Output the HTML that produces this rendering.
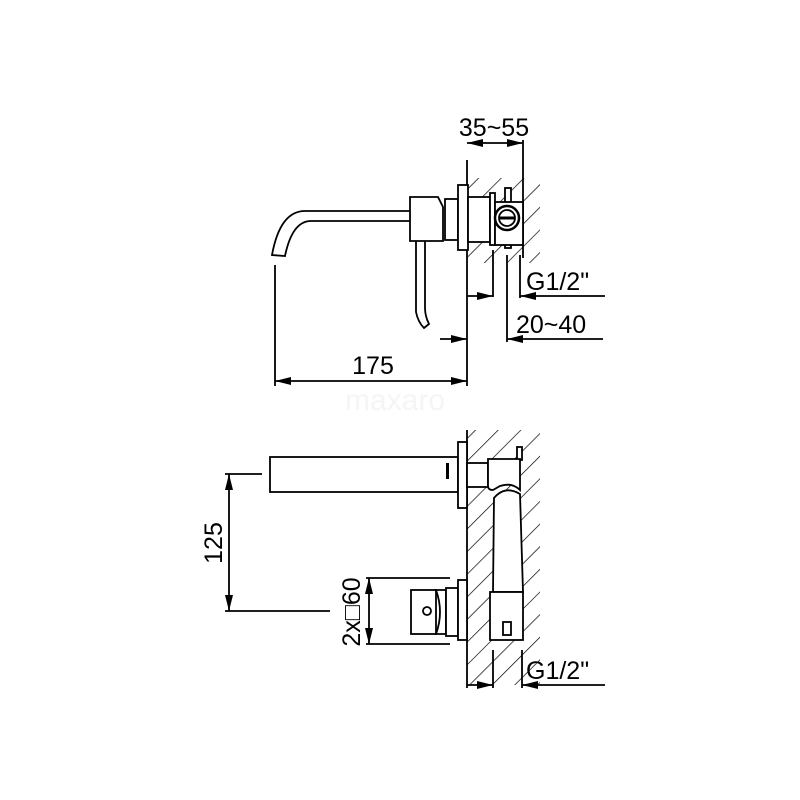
<!DOCTYPE html>
<html><head><meta charset="utf-8"><style>html,body{margin:0;padding:0;background:#fff}svg{display:block}</style></head><body>
<svg width="800" height="800" viewBox="0 0 800 800" xmlns="http://www.w3.org/2000/svg">
<defs>
<pattern id="h" width="16" height="16" patternUnits="userSpaceOnUse" patternTransform="rotate(45)"><line x1="0" y1="0" x2="0" y2="16" stroke="#000" stroke-width="1.4"/></pattern>
<marker id="a" viewBox="0 0 16 8" refX="16" refY="4" markerWidth="16" markerHeight="8" markerUnits="userSpaceOnUse" orient="auto-start-reverse"><path d="M0,0L16,4L0,8z" fill="#000"/></marker>
</defs>
<text x="395" y="410" font-family="Liberation Sans,sans-serif" font-size="30" fill="#f5f5f5" text-anchor="middle">maxaro</text>
<g fill="none" stroke="#000" stroke-width="1.8">
<rect x="467" y="178" width="73" height="85" fill="url(#h)" stroke="none"/>
<line x1="467" y1="160" x2="467" y2="348"/>
<line x1="523" y1="140" x2="523" y2="258"/>
<line x1="467" y1="143" x2="523" y2="143" marker-start="url(#a)" marker-end="url(#a)"/>
<path d="M411,211 H305 Q280,211 272,255 L285,256 Q292,222 310,221 H411" fill="#fff"/>
<path d="M416,241 V312 Q418,322 424,328 L429,324 Q425,316 425,308 V241" fill="#fff"/>
<path d="M410,197 H438 L443,207 V241 H410 Z" fill="#fff"/>
<rect x="445" y="199" width="13" height="41" fill="#fff"/>
<rect x="458" y="185" width="10" height="65" fill="#fff"/>
<rect x="468" y="197" width="22" height="45" fill="#fff"/>
<rect x="490" y="193" width="5" height="52" fill="#fff"/>
<rect x="505" y="188" width="6" height="60" fill="#fff"/>
<rect x="495" y="202" width="28" height="43" fill="#fff"/>
<circle cx="507" cy="218" r="12" fill="#fff" stroke-width="2.5"/>
<circle cx="507" cy="218" r="8"/>
<line x1="499" y1="218" x2="515" y2="218" stroke-width="3"/>
<line x1="493" y1="250" x2="493" y2="297"/>
<line x1="467" y1="296" x2="493" y2="296" marker-end="url(#a)"/>
<line x1="520" y1="255" x2="520" y2="298"/>
<line x1="605" y1="296" x2="520" y2="296" marker-end="url(#a)"/>
<line x1="507" y1="255" x2="507" y2="342"/>
<line x1="603" y1="339" x2="507" y2="339" marker-end="url(#a)"/>
<line x1="440" y1="339" x2="467" y2="339" marker-end="url(#a)"/>
<line x1="275" y1="265" x2="275" y2="386"/>
<line x1="467" y1="348" x2="467" y2="386"/>
<line x1="275" y1="381" x2="467" y2="381" marker-start="url(#a)" marker-end="url(#a)"/>
<rect x="467" y="430" width="73" height="255" fill="url(#h)" stroke="none"/>
<line x1="467" y1="430" x2="467" y2="688"/>
<rect x="270" y="457" width="188" height="35" fill="#fff"/>
<rect x="446" y="463" width="3" height="16" fill="#000" stroke="none"/>
<rect x="458" y="442" width="9" height="66" fill="#fff"/>
<rect x="467" y="463" width="21" height="24" fill="#fff"/>
<rect x="517" y="447" width="5" height="13" fill="#fff"/>
<path d="M493,592 L494,498 Q505,485 520,494 L523,592 Z" fill="#fff"/>
<path d="M488,459 H520 V490 Q512,482 500,486 L493,490 Q488,490 488,486 Z" fill="#fff"/>
<rect x="490" y="592" width="33" height="48" fill="#fff"/>
<rect x="503" y="622" width="8" height="13" fill="#fff"/>
<rect x="411" y="590" width="25" height="44" fill="#fff"/>
<path d="M436,590 Q444,612 436,634 H446 V590 Z" fill="#fff"/>
<circle cx="427" cy="611" r="4"/>
<rect x="446" y="588" width="12" height="48" fill="#fff"/>
<rect x="458" y="580" width="9" height="60" fill="#fff"/>
<line x1="225" y1="474" x2="262" y2="474"/>
<line x1="225" y1="611" x2="330" y2="611"/>
<line x1="229" y1="474" x2="229" y2="611" marker-start="url(#a)" marker-end="url(#a)"/>
<line x1="366" y1="578" x2="450" y2="578"/>
<line x1="366" y1="644" x2="450" y2="644"/>
<line x1="369" y1="578" x2="369" y2="644" marker-start="url(#a)" marker-end="url(#a)"/>
<line x1="493" y1="650" x2="493" y2="688"/>
<line x1="467" y1="685" x2="493" y2="685" marker-end="url(#a)"/>
<line x1="522" y1="650" x2="522" y2="688"/>
<line x1="605" y1="685" x2="522" y2="685" marker-end="url(#a)"/>
</g>
<g font-family="Liberation Sans,sans-serif" font-size="25" fill="#000">
<text x="494" y="136" text-anchor="middle">35~55</text>
<text x="526" y="290">G1/2"</text>
<text x="516" y="333">20~40</text>
<text x="373" y="374" text-anchor="middle">175</text>
<text x="526" y="679">G1/2"</text>
<text transform="translate(222,543) rotate(-90)" text-anchor="middle">125</text>
<text transform="translate(360,612) rotate(-90)" text-anchor="middle">2x□60</text>
</g>
</svg>
</body></html>
